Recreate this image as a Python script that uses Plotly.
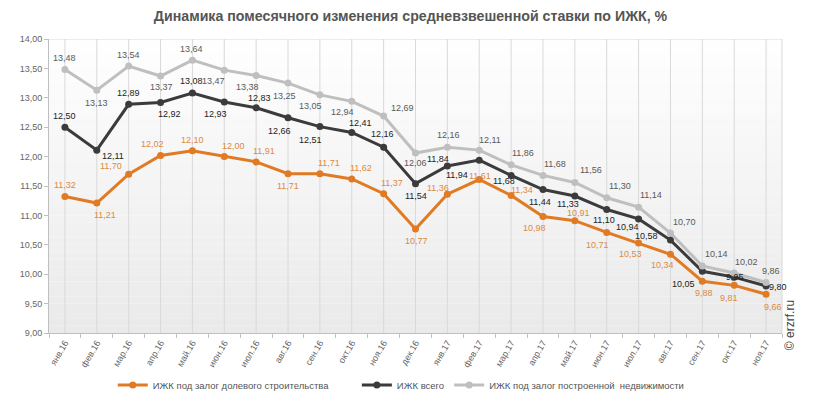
import plotly.graph_objects as go

months = ["янв.16","фев.16","мар.16","апр.16","май.16","июн.16","июл.16","авг.16","сен.16","окт.16","ноя.16","дек.16",
          "янв.17","фев.17","мар.17","апр.17","май.17","июн.17","июл.17","авг.17","сен.17","окт.17","ноя.17"]

built = [13.48,13.13,13.54,13.37,13.64,13.47,13.38,13.25,13.05,12.94,12.69,12.06,12.16,12.11,11.86,11.68,11.56,11.30,11.14,10.70,10.14,10.02,9.86]
total = [12.50,12.11,12.89,12.92,13.08,12.93,12.83,12.66,12.51,12.41,12.16,11.54,11.84,11.94,11.68,11.44,11.33,11.10,10.94,10.58,10.05,9.95,9.80]
shared = [11.32,11.21,11.70,12.02,12.10,12.00,11.91,11.71,11.71,11.62,11.37,10.77,11.36,11.61,11.34,10.98,10.91,10.71,10.53,10.34,9.88,9.81,9.66]

names = ["ИЖК под залог долевого строительства", "ИЖК всего", "ИЖК под залог построенной  недвижимости"]

# label offsets (px, dx right / dy down) - styling only
off_built = [(0,-12),(0,13),(0,-11),(1,11),(-1,-11),(-11,11),(-9,12),(-4,13),(-9,11),(-9,11),(19,-8),(0,10),
             (1,-12),(11,-10),(12,-12),(12,-11),(16,-12),(13,-12),(12,-12),(14,-11),(14,-12),(12,-11),(5,-11)]
off_total = [(0,-11),(16,6),(0,-11),(9,11),(-1,-12),(-9,12),(3,-10),(-9,13),(-9,13),(9,-9),(-1,-13),(0,12),
             (-9,-7),(-22,15),(-7,6),(-3,12),(-7,8),(-3,10),(-11,8),(-24,-4),(-19,13),(1,0),(12,1)]
off_shared = [(0,-12),(8,12),(-18,-8),(-8,-11),(0,-11),(9,-11),(8,-11),(0,12),(9,-11),(9,-11),(8,-11),(1,12),
              (-9,-6),(1,-4),(11,-5),(-8,11),(4,-8),(-9,13),(-8,11),(-8,11),(2,12),(-5,13),(7,13)]

COLORS = ["#E07B24", "#3b3b3b", "#bfbfbf"]
LABEL_COLORS = ["#DB8A42", "#222222", "#595959"]
LEGEND_X = [0.087, 0.42, 0.546]

def fmt(v):
    return f"{v:.2f}".replace(".", ",")

FONT = "Liberation Sans, Arial, sans-serif"

fig = go.Figure()

# background gradient bands
nb = 40
for i in range(nb):
    y0 = 14 - 5 * i / nb
    y1 = 14 - 5 * (i + 1) / nb
    g = int(255 - (255 - 234) * (i + 0.5) / nb)
    fig.add_shape(type="rect", xref="paper", yref="y", x0=0, x1=1, y0=y1, y1=y0,
                  fillcolor=f"rgb({g},{g},{g})", line_width=0, layer="below")

# vertical gridlines at category centres
for m in months:
    fig.add_shape(type="line", xref="x", yref="y", x0=m, x1=m, y0=9, y1=14,
                  line=dict(color="#d9d9d9", width=1), layer="below")
fig.add_shape(type="line", xref="paper", yref="y", x0=0, x1=1, y0=14, y1=14,
              line=dict(color="#d9d9d9", width=1), layer="below")
fig.add_shape(type="line", xref="paper", yref="y", x0=1, x1=1, y0=9, y1=14,
              line=dict(color="#d9d9d9", width=1), layer="below")

legend_ids = ["legend", "legend2", "legend3"]
series = [(shared, off_shared), (total, off_total), (built, off_built)]
for k, (vals, offs) in enumerate(series):
    fig.add_trace(go.Scatter(x=months, y=vals, name=names[k], mode="lines+markers", cliponaxis=False,
                             legend=legend_ids[k],
                             line=dict(color=COLORS[k], width=3), marker=dict(size=7, color=COLORS[k])))
    for m, v, (dx, dy) in zip(months, vals, offs):
        fig.add_annotation(x=m, y=v, xref="x", yref="y", text=fmt(v), showarrow=False,
                           xanchor="center", yanchor="middle", xshift=dx, yshift=-dy,
                           font=dict(size=9, color=LABEL_COLORS[k], family=FONT))

legend_style = dict(orientation="h", xanchor="left", y=-0.177, yanchor="middle",
                    font=dict(size=9.5, color="#555555", family=FONT), itemwidth=30,
                    bgcolor="rgba(0,0,0,0)")

fig.update_layout(
    width=805, height=404,
    margin=dict(l=38, r=31, t=31, b=73),
    paper_bgcolor="white", plot_bgcolor="white",
    separators=", ",
    font=dict(family=FONT, color="#555555"),
    title=dict(text="<b>Динамика помесячного изменения средневзвешенной ставки по ИЖК, %</b>",
               x=0.5, xanchor="center", xref="container", y=1 - 8 / 404, yanchor="middle",
               font=dict(size=14.2, color="#555555", family=FONT)),
    showlegend=True,
    legend=dict(x=LEGEND_X[0], **legend_style),
    legend2=dict(x=LEGEND_X[1], **legend_style),
    legend3=dict(x=LEGEND_X[2], **legend_style),
    xaxis=dict(type="category", range=[-0.5, len(months) - 0.5], showgrid=False,
               tickson="boundaries", ticks="outside", ticklen=4, tickcolor="#bfbfbf",
               showline=True, linecolor="#bfbfbf", linewidth=1,
               tickangle=-60, tickfont=dict(size=9, color="#666666", family=FONT)),
    yaxis=dict(range=[9, 14], dtick=0.5, tickformat=".2f", showgrid=False,
               ticks="outside", ticklen=4, tickcolor="#bfbfbf",
               showline=True, linecolor="#bfbfbf", linewidth=1, zeroline=False,
               tickfont=dict(size=9, color="#666666", family=FONT)),
)

fig.add_annotation(text="© erzrf.ru", xref="paper", yref="paper", x=1.011, y=0.027,
                   xanchor="center", yanchor="middle", textangle=-90, showarrow=False,
                   font=dict(size=12, color="#444444", family=FONT))

fig.write_html("out.html")
